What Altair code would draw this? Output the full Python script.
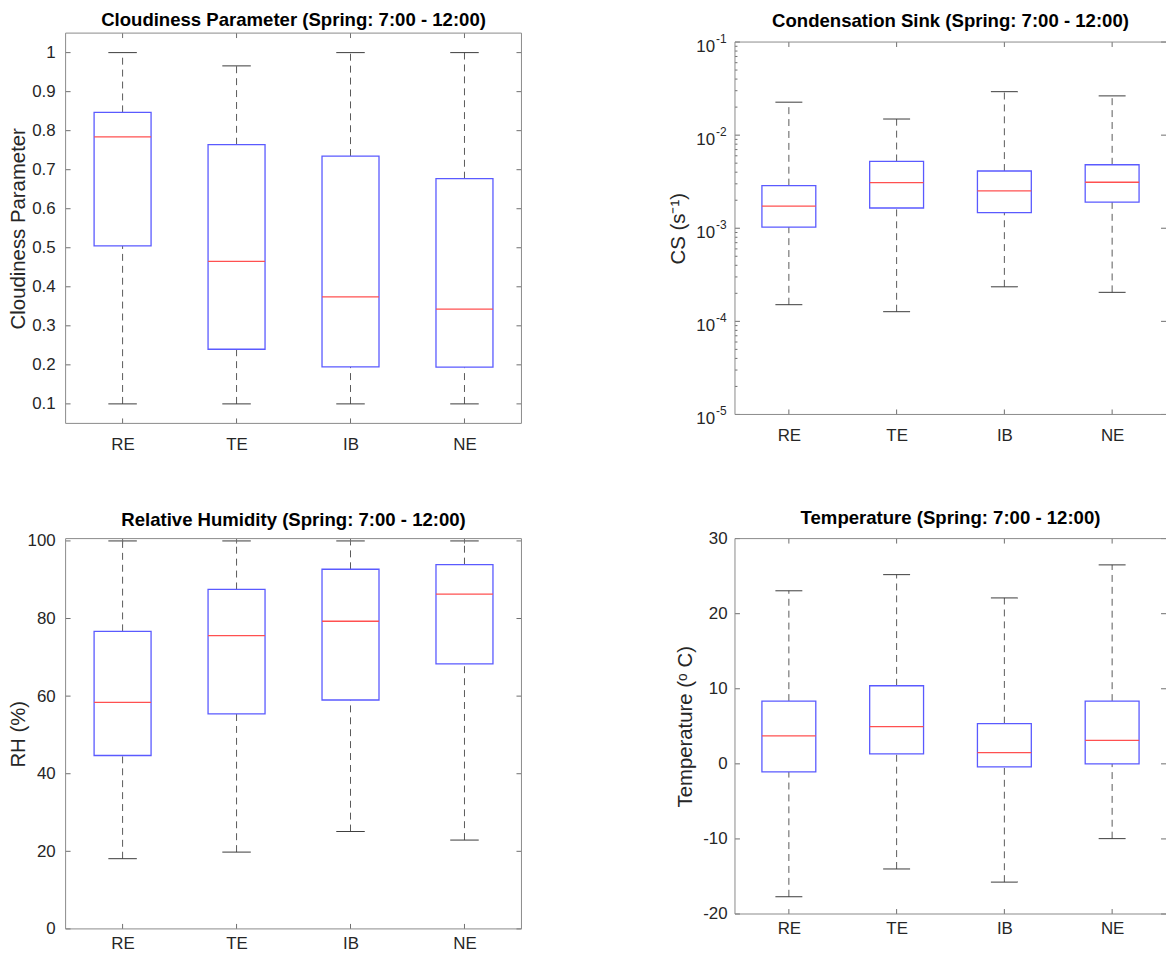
import altair as alt
import pandas as pd

sites = ["RE", "TE", "IB", "NE"]

# Cloudiness parameter
cp_low = [0.10, 0.10, 0.10, 0.10]
cp_q1 = [0.505, 0.240, 0.195, 0.194]
cp_med = [0.784, 0.465, 0.374, 0.343]
cp_q3 = [0.847, 0.764, 0.735, 0.677]
cp_high = [1.00, 0.966, 1.00, 1.00]

# Condensation sink (s^-1)
cs_low = [1.51e-4, 1.27e-4, 2.35e-4, 2.05e-4]
cs_q1 = [1.03e-3, 1.65e-3, 1.47e-3, 1.91e-3]
cs_med = [1.73e-3, 3.09e-3, 2.52e-3, 3.12e-3]
cs_q3 = [2.87e-3, 5.22e-3, 4.12e-3, 4.81e-3]
cs_high = [2.26e-2, 1.49e-2, 2.93e-2, 2.64e-2]

# Relative humidity (%)
rh_low = [18.1, 19.8, 25.1, 22.9]
rh_q1 = [44.7, 55.4, 59.0, 68.3]
rh_med = [58.4, 75.6, 79.3, 86.3]
rh_q3 = [76.7, 87.5, 92.7, 93.9]
rh_high = [100, 100, 100, 100]

# Temperature (C)
t_low = [-17.7, -14.0, -15.75, -9.96]
t_q1 = [-1.06, 1.33, -0.4, 0.0]
t_med = [3.72, 4.96, 1.5, 3.14]
t_q3 = [8.36, 10.4, 5.35, 8.36]
t_high = [23.05, 25.2, 22.1, 26.5]

cp_ticks = [0.1, 0.2, 0.3, 0.4, 0.5, 0.6, 0.7, 0.8, 0.9, 1]
cs_ticks = [1e-5, 1e-4, 1e-3, 1e-2, 1e-1]
cs_tick_base = ["10", "10", "10", "10", "10"]
cs_tick_exp = ["-5", "-4", "-3", "-2", "-1"]
cs_minor = [m * d for d in [1e-5, 1e-4, 1e-3, 1e-2] for m in range(2, 10)]
rh_ticks = [0, 20, 40, 60, 80, 100]
t_ticks = [-20, -10, 0, 10, 20, 30]

FONT = "Liberation Sans"
LABEL = "#262626"
FRAME = "#8a8a8a"
TICK = "#6e6e6e"
WHISK = "#5a5a5a"
CAP = "#3a3a3a"
BOX = "#5a5aff"
MED = "#ff5050"


def panel(title, ytitle, stats, W, H, domain, ticks, extent, tpad, lpad, xlp,
          log=False, minor=None, right=True, sup_labels=None):
    low, q1, med, q3, high = stats
    df = pd.DataFrame({"site": sites, "low": low, "q1": q1, "med": med,
                       "q3": q3, "high": high})
    step = W / 4.0
    boxw = step * 0.5
    capw = step * 0.25
    xscale = alt.Scale(type="point", domain=sites, padding=0.5)
    xaxis = alt.Axis(title=None, labelAngle=0, ticks=False, tickSize=0,
                     domain=False, grid=False, labelPadding=xlp, labelFont=FONT,
                     labelFontSize=17, labelColor=LABEL)
    yscale = alt.Scale(type="log" if log else "linear", domain=domain,
                       nice=False, zero=False)
    yaxis = alt.Axis(title=ytitle, values=ticks, labelExpr="'' + datum.value",
                     labels=sup_labels is None,
                     ticks=False, tickSize=0, domain=False, grid=False,
                     labelPadding=lpad, minExtent=extent, maxExtent=extent,
                     titlePadding=tpad, labelFont=FONT, labelFontSize=17,
                     labelColor=LABEL, titleFont=FONT, titleFontSize=20.5,
                     titleFontWeight="normal", titleColor=LABEL)
    X = alt.X("site:N", scale=xscale, axis=xaxis, sort=sites)

    def Y(f):
        return alt.Y(f"{f}:Q", scale=yscale, axis=yaxis)

    base = alt.Chart(df)
    layers = [
        base.mark_rule(color=WHISK, strokeWidth=1, strokeDash=[7, 5]).encode(
            x=X, y=Y("low"), y2="q1"),
        base.mark_rule(color=WHISK, strokeWidth=1, strokeDash=[7, 5]).encode(
            x=X, y=Y("q3"), y2="high"),
        base.mark_tick(color=CAP, size=capw, thickness=1, opacity=1).encode(
            x=X, y=Y("low")),
        base.mark_tick(color=CAP, size=capw, thickness=1, opacity=1).encode(
            x=X, y=Y("high")),
        base.mark_bar(fill="white", stroke=BOX, strokeWidth=1.3, size=boxw).encode(
            x=X, y=Y("q1"), y2="q3"),
        base.mark_tick(color=MED, size=boxw, thickness=1.3, opacity=1).encode(
            x=X, y=Y("med")),
    ]
    tdf = pd.DataFrame({"v": ticks})
    layers.append(alt.Chart(tdf).mark_rule(color=TICK).encode(
        y=Y("v"), x=alt.value(0), x2=alt.value(5)))
    layers.append(alt.Chart(tdf).mark_rule(color=TICK).encode(
        y=Y("v"), x=alt.value(W - 5), x2=alt.value(W)))
    if sup_labels is not None:
        ldf = pd.DataFrame({"v": ticks, "b": sup_labels[0], "e": sup_labels[1]})
        layers.append(alt.Chart(ldf).mark_text(
            align="right", baseline="alphabetic", dy=10, font=FONT,
            fontSize=17, color=LABEL).encode(
            y=Y("v"), x=alt.value(-20), text="b:N"))
        layers.append(alt.Chart(ldf).mark_text(
            align="left", baseline="alphabetic", dy=1, font=FONT,
            fontSize=12, color=LABEL).encode(
            y=Y("v"), x=alt.value(-19), text="e:N"))
    if minor:
        mdf = pd.DataFrame({"v": minor})
        layers.append(alt.Chart(mdf).mark_rule(color=TICK).encode(
            y=Y("v"), x=alt.value(0), x2=alt.value(2.5)))
    sdf = pd.DataFrame({"site": sites})
    layers.append(alt.Chart(sdf).mark_rule(color=TICK).encode(
        x=X, y=alt.value(0), y2=alt.value(5)))
    layers.append(alt.Chart(sdf).mark_rule(color=TICK).encode(
        x=X, y=alt.value(H - 5), y2=alt.value(H)))
    one = pd.DataFrame({"k": [0]})
    fr = alt.Chart(one).mark_rule(color=FRAME, strokeWidth=1)
    layers += [
        fr.encode(x=alt.value(0), x2=alt.value(W), y=alt.value(0)),
        fr.encode(x=alt.value(0), x2=alt.value(W), y=alt.value(H)),
        fr.encode(x=alt.value(0), y=alt.value(0), y2=alt.value(H)),
    ]
    if right:
        layers.append(fr.encode(x=alt.value(W), y=alt.value(0), y2=alt.value(H)))
    return alt.layer(*layers).properties(
        width=W, height=H,
        title=alt.TitleParams(text=title, font=FONT, fontSize=18.7,
                              fontWeight="bold", color="black", offset=2.5,
                              anchor="middle"))


W1, W2 = 459, 434

tl = panel("Cloudiness Parameter (Spring: 7:00 - 12:00)", "Cloudiness Parameter",
           (cp_low, cp_q1, cp_med, cp_q3, cp_high), W1, 393, [0.05, 1.05],
           cp_ticks, 34, 3.7, 10.5, 13)
tr = panel("Condensation Sink (Spring: 7:00 - 12:00)", "CS (s⁻¹)",
           (cs_low, cs_q1, cs_med, cs_q3, cs_high), W2, 375, [1e-5, 1e-1],
           cs_ticks, 40, 6.7, 8, 13, log=True, minor=cs_minor, right=False,
           sup_labels=(cs_tick_base, cs_tick_exp))
bl = panel("Relative Humidity (Spring: 7:00 - 12:00)", "RH (%)",
           (rh_low, rh_q1, rh_med, rh_q3, rh_high), W1, 393, [0, 100.6],
           rh_ticks, 34, 3.7, 10.5, 7)
br = panel("Temperature (Spring: 7:00 - 12:00)", "Temperature (ᵒ C)",
           (t_low, t_q1, t_med, t_q3, t_high), W2, 378, [-20, 30],
           t_ticks, 33, 6.3, 8, 7, right=False)

chart = alt.concat(
    tl, tr, bl, br, columns=2, spacing={"row": 116, "column": 215},
    bounds="flush", center=True, align="each"
).properties(
    padding={"left": 0, "top": 0, "right": 0, "bottom": 0},
    background="white"
).configure_view(strokeWidth=0)

chart.save("out.html", embed_options={"renderer": "svg", "actions": False})
